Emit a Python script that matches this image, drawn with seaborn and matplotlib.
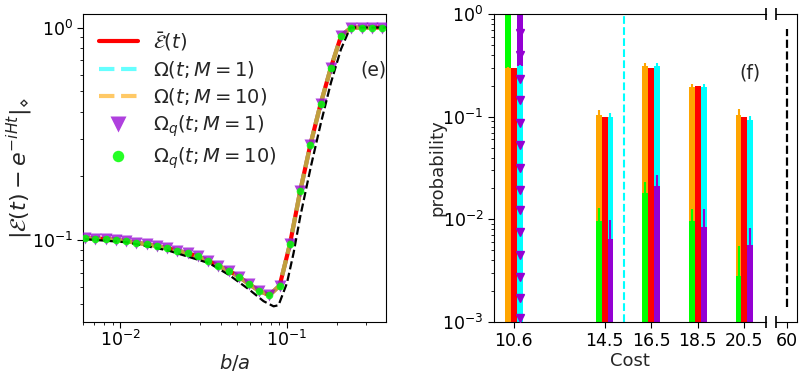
import numpy as np
import matplotlib
matplotlib.use('Agg')
import matplotlib.pyplot as plt
import seaborn as sns

# ---------------- data: panel (e) ----------------
ba = [0.00617, 0.00710, 0.00818, 0.00942, 0.01086, 0.01250, 0.01440, 0.01659,
      0.01911, 0.02202, 0.02535, 0.02920, 0.03364, 0.03874, 0.04463, 0.05140,
      0.05921, 0.06820, 0.07855, 0.09047, 0.1042, 0.1200, 0.1383, 0.1593,
      0.1835, 0.2113, 0.2434, 0.2804, 0.3229, 0.3719]
e_bar = [0.102, 0.1013, 0.101, 0.100, 0.0985, 0.097, 0.0953, 0.0936, 0.0913,
         0.089, 0.0865, 0.0835, 0.0797, 0.0755, 0.0716, 0.0671, 0.0619, 0.0574,
         0.0549, 0.0609, 0.0953, 0.169, 0.281, 0.437, 0.647, 0.913, 1.0, 1.0,
         1.0, 1.0]
omega_m1 = list(e_bar)
omega_m10 = list(e_bar)
omega_q_m1 = list(e_bar)
omega_q_m10 = list(e_bar)

ref_ba = [0.00617, 0.01096, 0.01923, 0.0342, 0.0451, 0.0597, 0.0724, 0.0832,
          0.0891, 0.1000, 0.1096, 0.1202, 0.1393, 0.1600, 0.1837, 0.2109,
          0.2399, 0.394]
ref_err = [0.1007, 0.0973, 0.0892, 0.0776, 0.0682, 0.0581, 0.0514, 0.0486,
           0.0492, 0.0625, 0.0866, 0.1286, 0.222, 0.356, 0.550, 0.790, 1.0, 1.0]

# ---------------- data: panel (f) ----------------
costs = [10.6, 14.5, 16.5, 18.5, 20.5]
cost_labels = ['10.6', '14.5', '16.5', '18.5', '20.5']
p_exact = [0.30, 0.099, 0.30, 0.201, 0.099]          # red
p_m10 = [0.30, 0.105, 0.310, 0.195, 0.105]           # orange
p_m10_err = [0.005, 0.012, 0.025, 0.015, 0.014]
p_m1 = [0.31, 0.099, 0.315, 0.195, 0.092]            # cyan
p_m1_err = [0.01, 0.009, 0.02, 0.015, 0.010]
p_q_m10 = [1.0, 0.0097, 0.0182, 0.0097, 0.00279]     # green
p_q_m10_err = [0.0, 0.0033, 0.0051, 0.0028, 0.0027]
p_q_m1 = [1.0, 0.00643, 0.0209, 0.00848, 0.0056]     # purple
p_q_m1_err = [0.0, 0.0034, 0.0062, 0.0040, 0.0027]
purple_arrows_106 = [0.65, 0.40, 0.233, 0.146, 0.087, 0.053, 0.032, 0.0195,
                     0.0123, 0.0076, 0.0045, 0.00275, 0.0017, 0.0011]
mean_cost = 15.35
opt_cost = 60

# ---------------- style ----------------
sns.set_style('ticks')
plt.rcParams['font.family'] = ['DejaVu Sans']
plt.rcParams['mathtext.fontset'] = 'dejavusans'
plt.rcParams['xtick.labelsize'] = 12.5
plt.rcParams['ytick.labelsize'] = 12.5
plt.rcParams['xtick.major.size'] = 4
plt.rcParams['ytick.major.size'] = 4
plt.rcParams['xtick.minor.size'] = 2.2
plt.rcParams['ytick.minor.size'] = 2.2
plt.rcParams['axes.edgecolor'] = 'black'
plt.rcParams['xtick.color'] = 'black'
plt.rcParams['ytick.color'] = 'black'

fig = plt.figure(figsize=(8, 3.76), dpi=100)
axL = fig.add_axes([0.104, 0.1436, 0.379, 0.819])
axR = fig.add_axes([0.6175, 0.1436, 0.34, 0.819])
axR2 = fig.add_axes([0.97, 0.1436, 0.02625, 0.819])

# ---------------- panel (e) ----------------
sns.lineplot(x=ba, y=e_bar, ax=axL, color='red', lw=3,
             label=r'$\bar{\mathcal{E}}(t)$', zorder=2)
sns.lineplot(x=ba, y=omega_m1, ax=axL, color='cyan', lw=3, alpha=0.6,
             linestyle='--', label=r'$\Omega(t;M=1)$', zorder=2.1)
sns.lineplot(x=ba, y=omega_m10, ax=axL, color='orange', lw=3, alpha=0.6,
             linestyle='--', label=r'$\Omega(t;M=10)$', zorder=2.2)
axL.plot(ba, omega_q_m1, ls='none', marker='v', ms=8, color='darkviolet',
         alpha=0.75, mec='none', label=r'$\Omega_q(t;M=1)$', zorder=3)
sns.lineplot(x=ref_ba, y=ref_err, ax=axL, color='black', lw=1.6,
             linestyle='--', legend=False, zorder=3.5)
axL.plot(ba, omega_q_m10, ls='none', marker='o', ms=5.5, color='lime',
         alpha=0.85, mec='none', label=r'$\Omega_q(t;M=10)$', zorder=4)

axL.set_xscale('log')
axL.set_yscale('log')
axL.set_xlim(0.006, 0.395)
axL.set_ylim(0.041, 1.157)
axL.tick_params(axis='x', which='major', pad=2)
axL.set_xlabel(r'$b/a$', fontsize=14, labelpad=1)
axL.set_ylabel(r'$|\mathcal{E}(t)-e^{-iHt}|_{\diamond}$', fontsize=16)
axL.yaxis.set_label_coords(-0.16, 0.5)
axL.text(0.957, 0.818, '(e)', transform=axL.transAxes, fontsize=13.5,
         ha='center', va='center')
handles, labels = axL.get_legend_handles_labels()
axL.legend(handles, labels, loc='upper left', frameon=False, fontsize=14,
           markerscale=1.5, handlelength=2.0, labelspacing=0.33,
           handletextpad=0.8, borderaxespad=0.4)

# ---------------- panel (f) ----------------
w = 0.25
x = np.array(costs)

def draw_pair(ax, xpos, vals_a, col_a, vals_b, col_b):
    for xi, a, b in zip(xpos, vals_a, vals_b):
        za, zb = (2, 2.5) if a >= b else (2.5, 2)
        ax.bar(xi, a, width=w, color=col_a, zorder=za, linewidth=0)
        ax.bar(xi, b, width=w, color=col_b, zorder=zb, linewidth=0)

draw_pair(axR, x - w, p_m10, 'orange', p_q_m10, 'lime')
axR.bar(x, p_exact, width=w, color='red', zorder=2, linewidth=0)
draw_pair(axR, x + w, p_m1, 'cyan', p_q_m1, 'darkviolet')

axR.errorbar(x - w, p_m10, yerr=p_m10_err, fmt='none', ecolor='orange',
             elinewidth=1.5, capsize=0, zorder=5)
axR.errorbar(x - w, p_q_m10, yerr=p_q_m10_err, fmt='none', ecolor='lime',
             elinewidth=1.5, capsize=0, zorder=5)
axR.errorbar(x + w, p_m1, yerr=p_m1_err, fmt='none', ecolor='cyan',
             elinewidth=1.5, capsize=0, zorder=5)
axR.errorbar(x + w, p_q_m1, yerr=p_q_m1_err, fmt='none', ecolor='darkviolet',
             elinewidth=1.5, capsize=0, zorder=5)
axR.plot([costs[0] + w] * len(purple_arrows_106), purple_arrows_106,
         ls='none', marker='v', ms=6, color='darkviolet', zorder=6,
         clip_on=False)

axR.axvline(mean_cost, color='cyan', ls='--', lw=1.5, zorder=1)
axR.set_yscale('log')
axR.set_ylim(1e-3, 1e0)
axR.set_xlim(9.75, 21.43)
axR.set_xticks(costs)
axR.set_xticklabels(cost_labels)
axR.set_xlabel('Cost', fontsize=13, labelpad=1)
axR.set_ylabel('probability', fontsize=13)
axR.yaxis.set_label_coords(-0.175, 0.5)
axR.text(0.94, 0.81, '(f)', transform=axR.transAxes, fontsize=13.5,
         ha='center', va='center')
axR.spines['right'].set_visible(False)

axR2.axvline(opt_cost, ymin=0.05, ymax=0.95, color='black', ls='--', lw=1.6)
axR2.set_yscale('log')
axR2.set_ylim(1e-3, 1e0)
axR2.set_xlim(59.5, 60.5)
axR2.set_xticks([opt_cost])
axR2.set_xticklabels(['60'])
axR2.set_yticks([])
axR2.minorticks_off()
axR2.yaxis.set_tick_params(which='both', left=False, labelleft=False)
axR2.spines['left'].set_visible(False)

# axis-break marks
axR.plot([1, 1], [0, 1], transform=axR.transAxes, ls='none', marker='|',
         ms=8, mew=1.2, color='black', clip_on=False)
axR2.plot([0, 0], [0, 1], transform=axR2.transAxes, ls='none', marker='|',
          ms=8, mew=1.2, color='black', clip_on=False)

fig.savefig('out.png', dpi=100)
